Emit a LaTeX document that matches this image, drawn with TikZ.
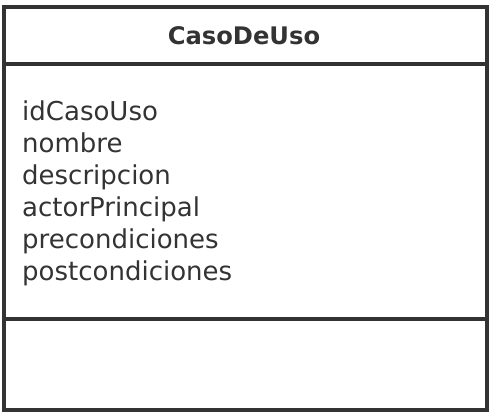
\documentclass[tikz,border=0pt]{standalone}
\usepackage{fontspec}
\setmainfont{DejaVu Sans}
\usepackage{xcolor}
\usetikzlibrary{positioning,calc}
\definecolor{tinta}{HTML}{333333}

\begin{document}
\begin{tikzpicture}[
		x=1pt, y=1pt,
		% Borde de la clase
		borde/.style={
			draw=tinta, line width=4pt
		},
		% Nombre de la clase
		titulo/.style={
			font=\fontsize{24.2}{30}\selectfont\bfseries, text=tinta,
			inner sep=0pt
		},
		% Lista de atributos
		atributos/.style={
			font=\fontsize{26}{32}\selectfont, text=tinta,
			align=left, inner sep=0pt, anchor=north west
		}
	]
	
	% --- Marco ---
	\useasboundingbox (0,0) rectangle (491,417);
	\fill[white] (0,0) rectangle (491,417);
	
	\coordinate (so) at (3.5,410);
	\coordinate (se) at (486.5,410);
	\coordinate (io) at (3.5,7);
	\coordinate (ie) at (486.5,7);
	\coordinate (d1) at (3.5,353);
	\coordinate (d2) at (3.5,98);
	
	\draw[borde] (so) rectangle (ie);
	\draw[borde] (d1) -- (d1 -| ie);
	\draw[borde] (d2) -- (d2 -| ie);
	
	% --- Textos ---
	\node[titulo] (clase) at (244,381) {CasoDeUso};
	
	\node[atributos] (attr) at (22,316) {idCasoUso\\
		nombre\\
		descripcion\\
		actorPrincipal\\
		precondiciones\\
		postcondiciones};
	
\end{tikzpicture}
\end{document}
